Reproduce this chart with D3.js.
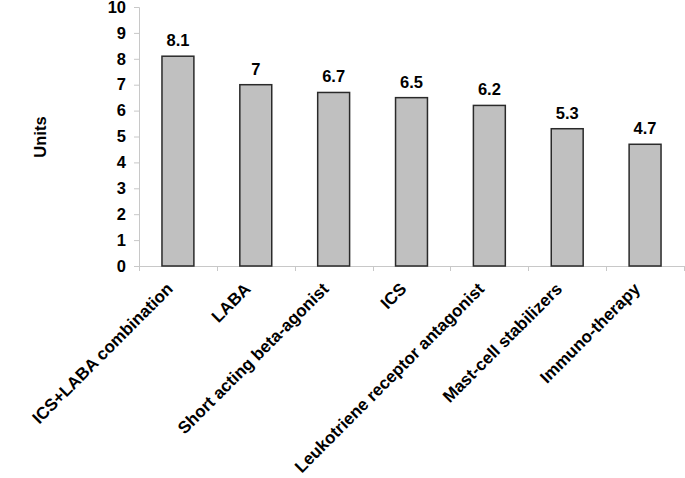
<!DOCTYPE html>
<html><head><meta charset="utf-8">
<script src="https://cdn.jsdelivr.net/npm/d3@7"></script>
<style>body{margin:0;background:#fff}svg{display:block}text{font-family:"Liberation Sans",Arial,sans-serif;font-weight:bold;fill:#000}</style>
</head><body><svg id="c" width="685" height="478"></svg>
<script>
const categories = ["ICS+LABA combination","LABA","Short acting beta-agonist","ICS","Leukotriene receptor antagonist","Mast-cell stabilizers","Immuno-therapy"];
const values = [8.1, 7, 6.7, 6.5, 6.2, 5.3, 4.7];
const valueLabels = ["8.1","7","6.7","6.5","6.2","5.3","4.7"];
const yTicks = [0,1,2,3,4,5,6,7,8,9,10];
const yTitle = "Units";

const svg = d3.select("#c");
const m = {l:139, r:684, t:7, b:266};
const x = d3.scaleBand().domain(categories).range([m.l, m.r]).paddingInner(0.59).paddingOuter(0.295);
const xb = d3.scaleBand().domain(categories).range([m.l, m.r]);
const y = d3.scaleLinear().domain([0,10]).range([m.b, m.t]);
const axisCol = "#c8c8c8";

// y axis
const ya = svg.append("g").attr("transform",`translate(${m.l},0)`)
  .call(d3.axisLeft(y).tickValues(yTicks).tickSize(5).tickPadding(8).tickFormat(d3.format("d")));
ya.select(".domain").attr("stroke",axisCol);
ya.selectAll(".tick line").attr("stroke",axisCol);
ya.selectAll(".tick text").style("font-size","16.5px").style("font-family","Liberation Sans, Arial").style("font-weight","bold").attr("fill","#000");

// x axis line with boundary ticks
svg.append("line").attr("x1",m.l).attr("x2",m.r).attr("y1",m.b+0.5).attr("y2",m.b+0.5).attr("stroke",axisCol);
const bounds = categories.map(c=>xb(c)).concat([m.r]);
svg.selectAll(".bt").data(bounds).join("line").attr("x1",d=>Math.round(d)+0.5).attr("x2",d=>Math.round(d)+0.5)
  .attr("y1",m.b).attr("y2",m.b+5).attr("stroke",axisCol);

// bars
svg.selectAll(".bar").data(values).join("rect")
  .attr("x",(d,i)=>x(categories[i])).attr("width",x.bandwidth())
  .attr("y",d=>y(d)).attr("height",d=>y(0)-y(d))
  .attr("fill","#c0c0c0").attr("stroke","#2a2a2a").attr("stroke-width",1.5);

// value labels
svg.selectAll(".vl").data(values).join("text")
  .attr("x",(d,i)=>x(categories[i])+x.bandwidth()/2).attr("y",d=>y(d)-10)
  .attr("text-anchor","middle").style("font-size","16.5px").text((d,i)=>valueLabels[i]);

// x labels
svg.selectAll(".xl").data(categories).join("text")
  .attr("transform",d=>`translate(${xb(d)+xb.bandwidth()/2-4},290) rotate(-45)`)
  .attr("text-anchor","end").style("font-size","17px").text(d=>d);

// y title
svg.append("text").attr("transform","translate(46,137) rotate(-90)").attr("text-anchor","middle")
  .style("font-size","16.5px").text(yTitle);
</script></body></html>
